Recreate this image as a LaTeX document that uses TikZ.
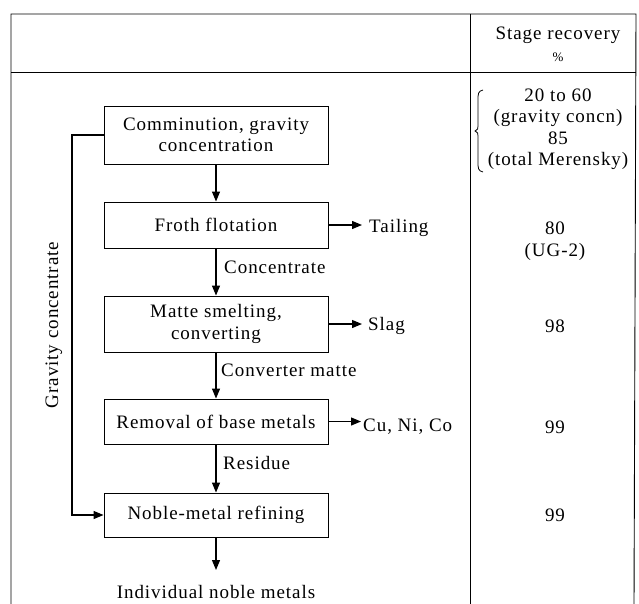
\documentclass[tikz,border=0pt]{standalone}
\usepackage{fontspec}
\setmainfont[LetterSpace=5]{Liberation Serif}
\usetikzlibrary{arrows.meta}
\begin{document}
\begin{tikzpicture}[x=1pt,y=-1pt,
  every node/.style={font=\fontsize{19}{21.5}\selectfont, inner sep=0pt},
  stepbox/.style={draw, line width=0.9pt, minimum width=224pt, align=center},
  flow/.style={line width=1.2pt, -{Triangle[length=10pt,width=8pt]}},
  frame/.style={line width=0.9pt},
  lab/.style={anchor=west}]
\useasboundingbox (0,0) rectangle (639,604);
% table frame
\draw[frame] (11,604) -- (11,14) -- (636,14) -- (634,604);
\draw[frame] (11,72) -- (636,72);
\draw[frame] (470,14) -- (470,604);
% header
\node (hd) at (558,35) {Stage recovery};
\node[font=\fontsize{13}{13}\selectfont] (pc) at (558,57) {\%};
% boxes
\node[stepbox, minimum height=58pt] (b1) at (216,135) {Comminution, gravity\\concentration};
\node[stepbox, minimum height=46pt] (b2) at (216,225) {Froth flotation};
\node[stepbox, minimum height=56pt] (b3) at (216,324) {Matte smelting,\\converting};
\node[stepbox, minimum height=45pt] (b4) at (216,421.5) {Removal of base metals};
\node[stepbox, minimum height=44pt] (b5) at (216,515) {Noble-metal refining};
\coordinate (out) at (216,570);
\node (ind) at (216,592) {Individual noble metals};
% main flow
\draw[flow] (b1) -- (b2);
\draw[flow] (b2) -- (b3);
\draw[flow] (b3) -- (b4);
\draw[flow] (b4) -- (b5);
\draw[flow] (b5) -- (out);
% flow labels
\node[lab] (lc) at (224,267) {Concentrate};
\node[lab] (lcm) at (221,370) {Converter matte};
\node[lab] (lr) at (223,463) {Residue};
% side outputs
\coordinate (t2) at (362,225);
\coordinate (t3) at (362,324);
\coordinate (t4) at (361,421.5);
\draw[flow] (b2.east) -- (t2);
\draw[flow] (b3.east) -- (t3);
\draw[flow] (b4.east) -- (t4);
\node[lab] (tail) at (369,228) {Tailing};
\node[lab] (slag) at (368,326) {Slag};
\node[lab] (cuni) at (363,427) {Cu, Ni, Co};
% gravity concentrate bypass
\coordinate (g1) at (72,135);
\coordinate (g2) at (72,515);
\draw[flow] (b1.west) -- (g1) -- (g2) -- (b5.west);
\node[rotate=90] (glab) at (54,325) {Gravity concentrate};
% recoveries
\node[align=center] (r1) at (558,129) {20 to 60\\(gravity concn)\\85\\(total Merensky)};
\draw[line width=0.8pt] (483,90) .. controls (478,91) and (478,94) .. (478,100) -- (478,126) .. controls (478,129) .. (475,131) .. controls (478,133) .. (478,136) -- (478,162) .. controls (478,168) and (478,171) .. (483,172);
\node (r2) at (555,228) {80};
\node (r2b) at (555,252) {(UG-2)};
\node (r3) at (555,326) {98};
\node (r4) at (555,427) {99};
\node (r5) at (555,515) {99};
\end{tikzpicture}
\end{document}
